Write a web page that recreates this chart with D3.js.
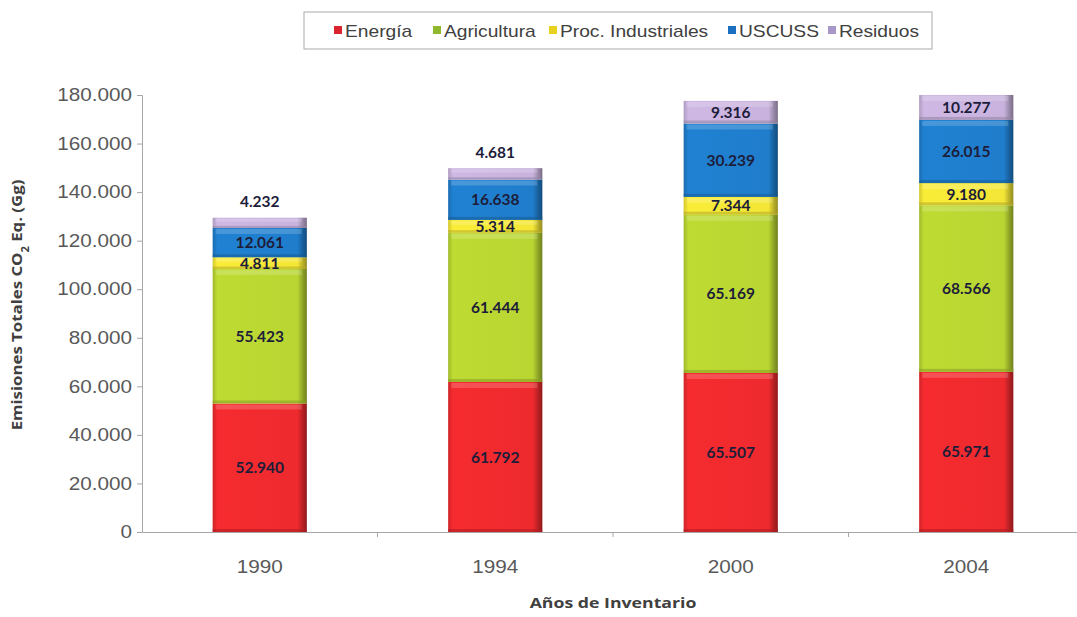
<!DOCTYPE html>
<html>
<head>
<meta charset="utf-8">
<script src="https://cdn.jsdelivr.net/npm/d3@7/dist/d3.min.js"></script>
<style>
  html, body { margin: 0; padding: 0; background: #fff; }
  svg { display: block; }
</style>
</head>
<body>
<svg id="chart" width="1077" height="617"></svg>
<script>
// Emisiones totales de GEI por sector y año de inventario (Gg CO2 eq.)
const years = ["1990", "1994", "2000", "2004"];
const sectors = ["Energía", "Agricultura", "Proc. Industriales", "USCUSS", "Residuos"];
const energia      = [52940, 61792, 65507, 65971];
const agricultura  = [55423, 61444, 65169, 68566];
const procInd      = [4811, 5314, 7344, 9180];
const uscuss       = [12061, 16638, 30239, 26015];
const residuos     = [4232, 4681, 9316, 10277];
const yTicks = [0, 20000, 40000, 60000, 80000, 100000, 120000, 140000, 160000, 180000];

const seriesValues = [energia, agricultura, procInd, uscuss, residuos];
const colors = ["#ee2a2e", "#b9d532", "#f3e636", "#1f7dcc", "#c9b3de"];
const legendColors = ["#d9242b", "#8fb82e", "#e8d21f", "#1b6fc0", "#a897c9"];

const rows = years.map((y, i) => {
  const r = { year: y };
  sectors.forEach((s, k) => r[s] = seriesValues[k][i]);
  return r;
});
const stacked = d3.stack().keys(sectors)(rows);

const locale = d3.formatLocale({ decimal: ",", thousands: ".", grouping: [3], currency: ["", ""] });
const fmt = locale.format(",d");

const svg = d3.select("#chart");
const plotLeft = 142, plotBottom = 532;

const x = d3.scaleBand().domain(years).range([plotLeft, 1084]).padding(0);
const y = d3.scaleLinear().domain([0, 180000]).range([plotBottom, 95]);
const barW = x.bandwidth() * 0.4;

// widen a text element horizontally about its own anchor point
function stretch(sel, sx) {
  sel.each(function () {
    const t = d3.select(this);
    const x0 = +t.attr("x") || 0;
    const y0 = +t.attr("y") || 0;
    t.attr("x", 0).attr("y", 0)
      .attr("transform", `translate(${x0},${y0}) scale(${sx},1)`);
  });
}

// gradients giving each segment a beveled look
const defs = svg.append("defs");
colors.forEach((c, k) => {
  const g = defs.append("linearGradient").attr("id", "grad" + k)
    .attr("x1", "0").attr("x2", "1").attr("y1", "0").attr("y2", "0");
  const base = d3.color(c);
  g.append("stop").attr("offset", "0").attr("stop-color", base.darker(0.4));
  g.append("stop").attr("offset", "0.05").attr("stop-color", base.brighter(0.08));
  g.append("stop").attr("offset", "0.9").attr("stop-color", base);
  g.append("stop").attr("offset", "0.96").attr("stop-color", base.darker(0.8));
  g.append("stop").attr("offset", "1").attr("stop-color", base.darker(1.4));
});

// y axis
const yAxis = svg.append("g")
  .attr("transform", `translate(${plotLeft},0)`)
  .call(d3.axisLeft(y).tickValues(yTicks).tickFormat(d => d === 0 ? "0" : fmt(d)).tickSize(5).tickPadding(5));
yAxis.select(".domain").attr("stroke", "#a6a6a6");
yAxis.selectAll(".tick line").attr("stroke", "#a6a6a6");
yAxis.selectAll(".tick text")
  .attr("fill", "#595959")
  .style("font-family", "'Liberation Sans', Arial, sans-serif")
  .style("font-size", "18px")
  .call(stretch, 1.15);

// x axis
const xAxis = svg.append("g")
  .attr("transform", `translate(0,${plotBottom})`)
  .call(d3.axisBottom(x).tickSize(0).tickPadding(28));
xAxis.select(".domain").attr("stroke", "#a6a6a6");
xAxis.selectAll(".tick text")
  .attr("fill", "#595959")
  .style("font-family", "'Liberation Sans', Arial, sans-serif")
  .style("font-size", "18px")
  .call(stretch, 1.15);
// category separators
xAxis.selectAll(".sep").data(years.slice(1)).join("line")
  .attr("class", "sep")
  .attr("x1", d => x(d)).attr("x2", d => x(d))
  .attr("y1", 0).attr("y2", 5)
  .attr("stroke", "#a6a6a6");

// stacked segments
const layer = svg.append("g").selectAll("g").data(stacked).join("g");
layer.each(function (s, k) {
  const g = d3.select(this);
  const segs = g.selectAll("g.seg").data(s).join("g").attr("class", "seg");
  const bx = d => x(d.data.year) + (x.bandwidth() - barW) / 2;
  const bh = d => y(d[0]) - y(d[1]);
  segs.append("rect")
    .attr("x", bx)
    .attr("width", barW)
    .attr("y", d => y(d[1]))
    .attr("height", bh)
    .attr("fill", `url(#grad${k})`);
  // soft top highlight
  segs.append("rect")
    .attr("x", d => bx(d) + 3)
    .attr("width", barW - 8)
    .attr("y", d => y(d[1]) + 1)
    .attr("height", d => Math.min(5, bh(d) * 0.3))
    .attr("fill", "#ffffff")
    .attr("opacity", 0.18);
  // bottom shade
  segs.append("rect")
    .attr("x", bx)
    .attr("width", barW)
    .attr("y", d => y(d[0]) - Math.min(3, bh(d) * 0.2))
    .attr("height", d => Math.min(3, bh(d) * 0.2))
    .attr("fill", d3.color(colors[k]).darker(0.9))
    .attr("opacity", 0.55);
});

// value labels
const labels = svg.append("g")
  .style("font-family", "Lato, 'Open Sans', sans-serif")
  .style("font-weight", "bold")
  .style("font-size", "15.5px")
  .attr("fill", "#1d1d3a")
  .attr("text-anchor", "middle");
stacked.forEach((s, k) => {
  s.forEach(d => {
    const v = d[1] - d[0];
    const hgt = y(d[0]) - y(d[1]);
    const cx = x(d.data.year) + x.bandwidth() / 2;
    let cy = (y(d[0]) + y(d[1])) / 2;
    if (k === 4 && hgt < 14) cy = y(d[1]) - 16;
    labels.append("text")
      .attr("x", cx).attr("y", cy).attr("dy", "0.36em")
      .text(fmt(v));
  });
});

// legend
const lg = svg.append("g");
lg.append("rect").attr("x", 304).attr("y", 12).attr("width", 628).attr("height", 37)
  .attr("fill", "#fff").attr("stroke", "#b8b8b8").attr("stroke-width", 1.2);
const legendX = [334, 433, 549, 728, 828];
sectors.forEach((s, k) => {
  lg.append("rect").attr("x", legendX[k]).attr("y", 26).attr("width", 8).attr("height", 8)
    .attr("fill", legendColors[k]);
  lg.append("text").attr("x", legendX[k] + 11).attr("y", 31).attr("dy", "0.36em")
    .style("font-family", "'Liberation Sans', Arial, sans-serif")
    .style("font-size", "16px")
    .attr("fill", "#404040")
    .text(s)
    .call(stretch, 1.2);
});

// axis titles
svg.append("text")
  .attr("x", 613).attr("y", 608)
  .attr("text-anchor", "middle")
  .style("font-family", "'Open Sans', sans-serif")
  .style("font-weight", "bold").style("font-size", "15px")
  .attr("fill", "#404040")
  .text("Años de Inventario")
  .call(stretch, 1.18);

const yt = svg.append("text")
  .attr("transform", "translate(22,305) rotate(-90) scale(1.12,1)")
  .attr("text-anchor", "middle")
  .style("font-family", "'Open Sans', sans-serif")
  .style("font-weight", "bold").style("font-size", "15px")
  .attr("fill", "#404040");
yt.append("tspan").text("Emisiones Totales CO");
yt.append("tspan").attr("baseline-shift", "sub").style("font-size", "10px").text("2");
yt.append("tspan").text(" Eq. (Gg)");
</script>
</body>
</html>
